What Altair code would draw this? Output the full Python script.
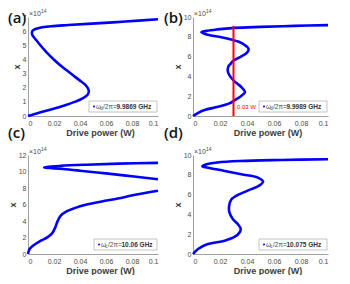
import altair as alt
import pandas as pd

# ---------------- data (x in units of 1e14, drive power in W) ----------------
a_x = [0, 0.25, 0.5, 0.75, 1.0, 1.25, 1.5, 1.75, 2.0, 2.25, 2.5, 2.75, 3.0, 3.5,
       4.0, 4.5, 5.0, 5.4, 5.7, 5.9, 6.05, 6.17, 6.27, 6.35, 6.43, 6.53, 6.68, 6.84]
a_p = [0, 0.009, 0.019, 0.028, 0.036, 0.042, 0.0458, 0.0468, 0.0458, 0.0435, 0.040,
       0.0365, 0.033, 0.026, 0.0198, 0.0143, 0.0095, 0.006, 0.0035, 0.003, 0.0038,
       0.0065, 0.011, 0.018, 0.031, 0.049, 0.075, 0.1]

b_x = [0, 0.3, 0.6, 0.93, 1.27, 1.6, 2.0, 2.4, 2.9, 3.3, 3.6, 4.0, 4.5, 5.0, 5.3,
       5.6, 6.0, 6.4, 6.8, 7.2, 7.5, 7.7, 7.95, 8.2, 8.45, 8.6, 8.75, 8.9, 9.0, 9.1, 9.18]
b_p = [0, 0.0035, 0.0086, 0.0185, 0.027, 0.031, 0.0355, 0.0385, 0.036, 0.0325,
       0.030, 0.0275, 0.0258, 0.0262, 0.028, 0.030, 0.0355, 0.040, 0.0412, 0.038,
       0.034, 0.029, 0.021, 0.011, 0.0062, 0.010, 0.018, 0.031, 0.05, 0.075, 0.1]

c_low_x = [0, 0.6, 1.13, 1.61, 2.02, 2.5, 3.23, 3.95, 4.64, 5.16, 5.56, 5.97, 6.37,
           6.73, 7.14, 7.66]
c_low_p = [0, 0.0012, 0.0049, 0.0099, 0.0148, 0.0185, 0.021, 0.0227, 0.0252, 0.0296,
           0.0358, 0.0444, 0.0568, 0.0691, 0.0815, 0.1]
c_up_x = [9.07, 9.42, 9.77, 10.1, 10.3, 10.42, 10.48, 10.55, 10.68, 10.82, 10.95, 11.05]
c_up_p = [0.1, 0.08, 0.06, 0.04, 0.027, 0.017, 0.0125, 0.0145, 0.025, 0.045, 0.07, 0.1]

d_x = [0, 0.5, 1.0, 1.35, 1.75, 2.2, 2.55, 3.0, 3.5, 4.2, 4.8, 5.5, 6.05, 6.55,
       7.0, 7.32, 7.72, 8.05, 8.39, 8.72, 8.86, 9.05, 9.25, 9.4, 9.5, 9.57]
d_p = [0, 0.0037, 0.011, 0.0235, 0.031, 0.0346, 0.0353, 0.0333, 0.0296, 0.027,
       0.0267, 0.0284, 0.0346, 0.0432, 0.050, 0.0519, 0.048, 0.0358, 0.0235, 0.011,
       0.0069, 0.0095, 0.018, 0.035, 0.065, 0.1]

x_ticks = [0, 0.02, 0.04, 0.06, 0.08, 0.1]
panel_letters = ["(a)", "(b)", "(c)", "(d)"]
legend_subs = ["d", "d", "c", "c"]
legend_freqs = ["9.9869 GHz", "9.9989 GHz", "10.06 GHz", "10.075 GHz"]
marker_power = [0.03]
marker_top = [9.1]
marker_label = ["0.03 W"]

BLUE = "#0000ff"
FONT = "Liberation Sans"
TXT = "#4a4a4a"


def frame(xs, ps, seg=0):
    return pd.DataFrame({"P": ps, "X": xs, "seg": [seg] * len(xs)})


def panel(df, ymax, ystep, w, h, idx, letter_dx, letter_dy, box_w, extra=None):
    xenc = alt.X("P:Q", scale=alt.Scale(domain=[0, 0.1], nice=False, zero=False),
                 axis=alt.Axis(values=x_ticks, labelExpr="format(datum.value, '~g')",
                               title="Drive power (W)", titleX=w / 2 + 7))
    yenc = alt.Y("X:Q", scale=alt.Scale(domain=[0, ymax], nice=False),
                 axis=alt.Axis(values=list(range(0, ymax + 1, ystep)), title="x"))
    line = alt.Chart(df).mark_line(color=BLUE, strokeWidth=2.6,
                                   interpolate="catmull-rom").encode(
        x=xenc, y=yenc, order="X:Q", detail="seg:N")
    base = alt.Chart(pd.DataFrame({"k": [0]}))
    L = w - 1 - box_w
    ym = h - 9.5
    box = base.mark_rect(fill="white", stroke="#b4b4b4", strokeWidth=0.8).encode(
        x=alt.value(L), x2=alt.value(w - 1), y=alt.value(h - 15), y2=alt.value(h - 4))
    dot = base.mark_circle(color=BLUE, size=4, opacity=1).encode(
        x=alt.value(L + 5), y=alt.value(ym))
    tw = base.mark_text(text="ω", align="left", baseline="middle", fontSize=6.5,
                        font=FONT, color=TXT).encode(x=alt.value(L + 7), y=alt.value(ym))
    ts = base.mark_text(text=legend_subs[idx], align="left", baseline="middle",
                        fontSize=4.5, font=FONT, color=TXT).encode(
        x=alt.value(L + 11.2), y=alt.value(ym + 2))
    tr = base.mark_text(text="/2π=", align="left", baseline="middle", fontSize=6.5,
                        font=FONT, color=TXT).encode(x=alt.value(L + 14), y=alt.value(ym))
    tv = base.mark_text(text=legend_freqs[idx], align="left", baseline="middle",
                        fontSize=6.5, fontWeight="bold", font=FONT, color="#333333").encode(
        x=alt.value(L + 27.5), y=alt.value(ym))
    e1 = base.mark_text(text="×10", align="left", baseline="alphabetic", fontSize=7,
                        font=FONT, color=TXT).encode(x=alt.value(1), y=alt.value(-1))
    e2 = base.mark_text(text="14", align="left", baseline="alphabetic", fontSize=5,
                        font=FONT, color=TXT).encode(x=alt.value(13), y=alt.value(-4.5))
    lab = base.mark_text(text=panel_letters[idx], align="left", baseline="middle",
                         fontSize=15, font="Open Sans", fontWeight=600,
                         color="#111111").encode(x=alt.value(letter_dx), y=alt.value(letter_dy))
    layers = [line]
    if extra is not None:
        layers += extra(xenc, yenc)
    layers += [box, dot, tw, ts, tr, tv, e1, e2, lab]
    return alt.layer(*layers).properties(width=w, height=h)


def red_marker(xenc, yenc):
    rd = pd.DataFrame({"P": marker_power, "X": [0], "X2": marker_top})
    rule = alt.Chart(rd).mark_rule(color="#ff0000", strokeWidth=2).encode(
        x=xenc, y=yenc, y2="X2:Q")
    td = pd.DataFrame({"P": marker_power, "X": [0.9], "t": marker_label})
    txt = alt.Chart(td).mark_text(align="left", baseline="middle", dx=3.5, fontSize=6,
                                  font=FONT, color="#ff0000").encode(
        x=xenc, y=yenc, text="t:N")
    return [rule, txt]


pa = panel(frame(a_x, a_p), 7, 1, 130, 99, 0, -20, 1, 68)
pb = panel(frame(b_x, b_p), 10, 2, 135, 99, 1, -29, 1, 68, extra=red_marker)
pc = panel(pd.concat([frame(c_low_x, c_low_p, 0), frame(c_up_x, c_up_p, 1)]),
           12, 2, 130, 99, 2, -20, -22, 63)
pd_ = panel(frame(d_x, d_p), 10, 2, 135, 99, 3, -29, -22, 68)

chart = alt.concat(pa, pb, pc, pd_, columns=2, spacing={"row": 39, "column": 35},
                   bounds="flush").properties(padding=0).configure_view(
    stroke=None).configure_axis(
    grid=False, ticks=False, domainColor="#a0a0a0", domainWidth=1,
    labelFont=FONT, labelFontSize=7, labelColor=TXT, labelPadding=2,
    titleFont=FONT, titleFontSize=9, titleFontWeight="bold", titleColor="#404040",
    titlePadding=1).configure_axisX(labelPadding=3, titlePadding=2)

chart.save("out.html", embed_options={"renderer": "svg", "actions": False})
